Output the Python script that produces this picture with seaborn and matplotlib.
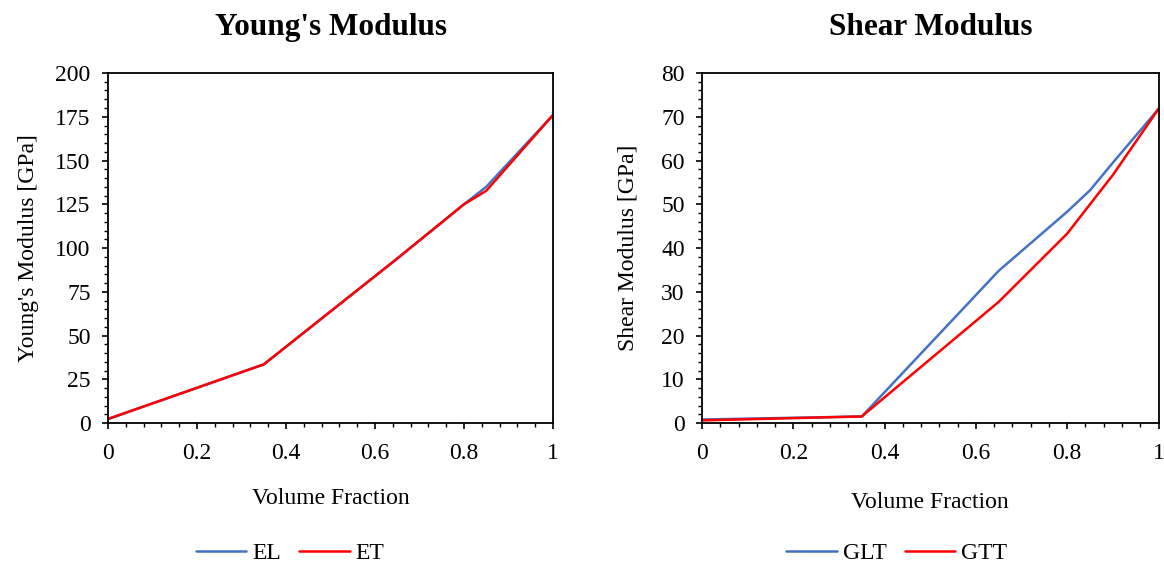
import matplotlib
matplotlib.use("Agg")
import matplotlib.pyplot as plt
from matplotlib.ticker import MultipleLocator, FormatStrFormatter
import seaborn as sns
import pandas as pd

# Volume fraction sample points
vf_young = [0.0, 0.35, 0.65, 0.8, 0.85, 1.0]
EL = [2.3, 33.5, 94.0, 125.0, 135.0, 176.0]
ET = [2.3, 33.5, 94.0, 125.0, 132.7, 176.0]

vf_shear = [0.0, 0.35, 0.65, 0.8, 0.85, 0.9, 1.0]
GLT = [0.8, 1.5, 34.8, 48.3, 53.2, 59.5, 71.8]
GTT = [0.6, 1.5, 27.7, 43.3, 50.0, 56.7, 71.8]

BLUE = "#4472C4"
RED = "#FF0000"

sns.set_theme(style="white")
plt.rcParams["font.family"] = ["Liberation Serif", "DejaVu Serif"]
plt.rcParams.update({
    "text.color": "black",
    "axes.labelcolor": "black",
    "axes.titlecolor": "black",
    "xtick.color": "black",
    "ytick.color": "black",
})

fig = plt.figure(figsize=(11.64, 5.65), dpi=100)
ax1 = fig.add_axes([0.0928, 0.2513, 0.3823, 0.6195])
ax2 = fig.add_axes([0.6031, 0.2513, 0.3922, 0.6195])

df_y = pd.DataFrame({"vf": vf_young * 2,
                     "val": EL + ET,
                     "series": ["EL"] * len(EL) + ["ET"] * len(ET)})
df_s = pd.DataFrame({"vf": vf_shear * 2,
                     "val": GLT + GTT,
                     "series": ["GLT"] * len(GLT) + ["GTT"] * len(GTT)})

sns.lineplot(data=df_y, x="vf", y="val", hue="series",
             palette={"EL": BLUE, "ET": RED}, linewidth=1.8, ax=ax1,
             sort=False)
sns.lineplot(data=df_s, x="vf", y="val", hue="series",
             palette={"GLT": BLUE, "GTT": RED}, linewidth=1.8, ax=ax2,
             sort=False)

FS = 17


def style(ax, ymax, ymaj, ymin, title, ylabel, ylpad, xlpad, legx):
    ax.set_xlim(0, 1)
    ax.set_ylim(0, ymax)
    ax.xaxis.set_major_locator(MultipleLocator(0.2))
    ax.xaxis.set_minor_locator(MultipleLocator(0.04))
    ax.yaxis.set_major_locator(MultipleLocator(ymaj))
    ax.yaxis.set_minor_locator(MultipleLocator(ymin))
    ax.xaxis.set_major_formatter(plt.FuncFormatter(
        lambda v, p: "0" if abs(v) < 1e-9 else ("1" if abs(v - 1) < 1e-9 else f"{v:.1f}")))
    ax.yaxis.set_major_formatter(FormatStrFormatter("%d"))
    ax.tick_params(which="major", direction="out", length=4.5, width=1.2,
                   labelsize=FS, left=True, bottom=True)
    ax.tick_params(axis="x", which="major", pad=10)
    ax.tick_params(axis="y", which="major", pad=8)
    ax.tick_params(which="minor", direction="out", length=3, width=1.0,
                   left=True, bottom=True)
    for side in ["left", "bottom", "top", "right"]:
        ax.spines[side].set_visible(True)
        ax.spines[side].set_color("black")
        ax.spines[side].set_linewidth(1.3)
    ax.set_title(title, fontsize=22.5, fontweight="bold", pad=27)
    ax.set_xlabel("Volume Fraction", fontsize=FS, labelpad=xlpad)
    ax.set_ylabel(ylabel, fontsize=FS, labelpad=ylpad)
    ax.legend(loc="upper center", bbox_to_anchor=(legx, -0.28), ncol=2,
              frameon=False, fontsize=FS, handlelength=2.15,
              columnspacing=0.75, handletextpad=0.25)


style(ax1, 200, 25, 5, "Young's Modulus", "Young's Modulus [GPa]", 12, 17, 0.409)
style(ax2, 80, 10, 2, "Shear Modulus", "Shear Modulus [GPa]", 16, 20, 0.427)

fig.savefig("out.png", dpi=100)
